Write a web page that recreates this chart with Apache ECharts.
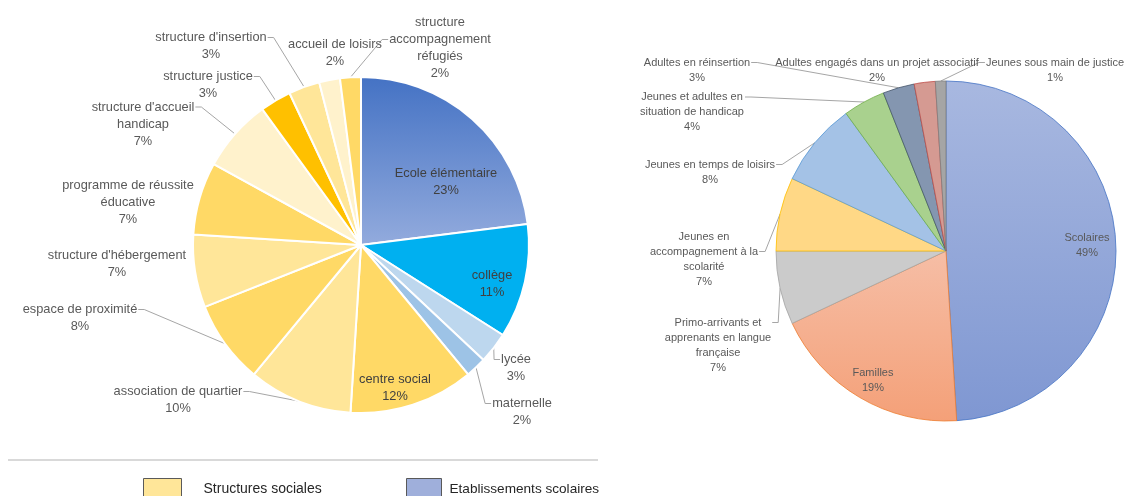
<!DOCTYPE html>
<html><head><meta charset="utf-8">
<script src="https://cdn.jsdelivr.net/npm/echarts@6/dist/echarts.min.js"></script>
<style>html,body{margin:0;padding:0;background:#fff}#c{width:1127px;height:496px}</style>
</head><body><div id="c"></div>
<script>
// ---------- DATA ----------
var leftCategories = ['Ecole élémentaire', 'collège', 'lycée', 'maternelle', 'centre social',
  'association de quartier', 'espace de proximité', "structure d'hébergement",
  'programme de réussite\néducative', "structure d'accueil\nhandicap", 'structure justice',
  "structure d'insertion", 'accueil de loisirs', 'structure\naccompagnement\nréfugiés'];
var leftValues = [23, 11, 3, 2, 12, 10, 8, 7, 7, 7, 3, 3, 2, 2];

var rightCategories = ['Scolaires', 'Familles', 'Primo-arrivants et\napprenants en langue\nfrançaise',
  'Jeunes en\naccompagnement à la\nscolarité', 'Jeunes en temps de loisirs',
  'Jeunes et adultes en\nsituation de handicap', 'Adultes en réinsertion',
  'Adultes engagés dans un projet associatif', 'Jeunes sous main de justice'];
var rightValues = [49, 19, 7, 7, 8, 4, 3, 2, 1];

var legendLabels = ['Structures sociales', 'Etablissements scolaires'];

// ---------- STYLES / LAYOUT ----------
var G = function (a, b) { return new echarts.graphic.LinearGradient(0, 0, 0, 1, [{offset: 0, color: a}, {offset: 1, color: b}]); };
var leftColors = [G('#4472c4', '#93abdd'), '#00b0f0', '#bdd7ee', '#9dc3e6', '#ffd966', '#ffe699', '#ffd966',
  '#ffe699', '#ffd966', '#fff2cc', '#ffc000', '#ffe699', '#fff2cc', '#ffd966'];
var rightColors = [G('#a8b8e0', '#7f97d2'), G('#f6bea6', '#f4a078'), '#cbcbcb', '#ffd886', '#a4c2e6', '#a9d18e',
  '#8496b0', '#d59a92', '#a5a5a5'];
var rightBorders = ['#4472c4', '#ed7d31', '#a5a5a5', '#ffc000', '#5b9bd5', '#70ad47', '#44546a', '#c0504d', '#7f7f7f'];

// label block centres, inside flags, leader anchor [side, lineIndex] or null
var leftLabelPos = [[446, 182], [492, 284], [516, 368], [522, 412], [395, 388], [178, 400], [80, 318], [117, 264],
  [128, 202], [143, 124], [208, 85], [211, 46], [335, 53], [440, 48]];
var leftInside = [1, 1, 0, 0, 1, 0, 0, 0, 0, 0, 0, 0, 0, 0];
var leftAnchor = [null, null, ['l', 0], ['l', 0], null, ['r', 0], ['r', 0], null, null, ['r', 0], ['r', 0], ['r', 0], null, ['l', 1]];

var rightLabelPos = [[1087, 245], [873, 380], [718, 345], [704, 259], [710, 172], [692, 112], [697, 70], [877, 70], [1055, 70]];
var rightInside = [1, 1, 0, 0, 0, 0, 0, 0, 0];
var rightAnchor = [null, null, ['r', 0], ['r', 1], ['r', 0], ['r', 0], ['r', 0], null, ['l', 0]];

function makeLayout(pos, anchor, lineH) {
  return function (p) {
    var c = pos[p.dataIndex];
    var w = p.labelRect.width, h = p.labelRect.height;
    var res = {x: c[0], y: c[1], align: 'center', verticalAlign: 'middle'};
    var a = anchor[p.dataIndex];
    if (a && p.labelLinePoints && p.labelLinePoints.length) {
      var start = p.labelLinePoints[0];
      var top = c[1] - h / 2;
      var ey = top + lineH * (a[1] + 0.5);
      var ex = a[0] === 'r' ? c[0] + w / 2 + 1 : c[0] - w / 2 - 1;
      var tx = a[0] === 'r' ? ex + 6 : ex - 6;
      res.labelLinePoints = [start, [tx, ey], [ex, ey]];
    }
    return res;
  };
}

function buildData(cats, vals, colors, inside, anchor, borders, insideColor) {
  return cats.map(function (n, i) {
    var d = {name: n, value: vals[i], itemStyle: {color: colors[i]}};
    if (borders) { d.itemStyle.borderColor = borders[i]; }
    if (inside[i]) {
      d.label = {position: 'inside', color: insideColor};
      d.labelLine = {show: false};
    } else if (!anchor[i]) {
      d.labelLine = {show: false};
    }
    return d;
  });
}

var chart = echarts.init(document.getElementById('c'), null, {renderer: 'canvas'});
var font = '"Liberation Sans", "DejaVu Sans", sans-serif';

chart.setOption({
  animation: false,
  backgroundColor: '#ffffff',
  legend: [
    {left: 143, top: 478, padding: 0, itemWidth: 38, itemHeight: 22, icon: 'rect',
      data: [{name: legendLabels[0], itemStyle: {color: '#ffe699', borderColor: '#5a5a5a', borderWidth: 1}}],
      textStyle: {fontFamily: font, fontSize: 14, color: '#262626', padding: [0, 0, 0, 17]}, selectedMode: false},
    {left: 406, top: 478, padding: 0, itemWidth: 35, itemHeight: 22, icon: 'rect',
      data: [{name: legendLabels[1], itemStyle: {color: '#9fafdb', borderColor: '#595959', borderWidth: 1}}],
      textStyle: {fontFamily: font, fontSize: 13.6, color: '#262626', padding: [0, 0, 0, 3]}, selectedMode: false}
  ],
  graphic: [
    {type: 'line', shape: {x1: 8, y1: 460, x2: 598, y2: 460}, style: {stroke: '#d9d9d9', lineWidth: 2}, silent: true}
  ],
  series: [
    {
      type: 'pie', center: [361, 245], radius: 168, startAngle: 90, clockwise: true,
      avoidLabelOverlap: false, percentPrecision: 0,
      data: buildData(leftCategories, leftValues, leftColors, leftInside, leftAnchor, null, '#404040'),
      itemStyle: {borderColor: '#ffffff', borderWidth: 2},
      label: {show: true, formatter: '{b}\n{d}%', fontFamily: font, fontSize: 12.8, lineHeight: 17,
        color: '#595959', align: 'center'},
      labelLine: {show: true, lineStyle: {color: '#a6a6a6', width: 1}},
      labelLayout: makeLayout(leftLabelPos, leftAnchor, 17),
      emphasis: {disabled: true}
    },
    {
      type: 'pie', center: [946, 251], radius: 170, startAngle: 90, clockwise: true,
      avoidLabelOverlap: false, percentPrecision: 0,
      data: buildData(rightCategories, rightValues, rightColors, rightInside, rightAnchor, rightBorders, '#595959'),
      itemStyle: {borderWidth: 0.8},
      label: {show: true, formatter: '{b}\n{d}%', fontFamily: font, fontSize: 11, lineHeight: 15,
        color: '#595959', align: 'center'},
      labelLine: {show: true, lineStyle: {color: '#a6a6a6', width: 1}},
      labelLayout: makeLayout(rightLabelPos, rightAnchor, 15),
      emphasis: {disabled: true}
    },
    {
      type: 'pie', center: [-100, -100], radius: 0, silent: true, label: {show: false}, labelLine: {show: false},
      data: [{name: legendLabels[0], value: 1, itemStyle: {color: '#ffe699'}},
             {name: legendLabels[1], value: 1, itemStyle: {color: '#9fafdb'}}]
    }
  ]
});
</script>
</body></html>
